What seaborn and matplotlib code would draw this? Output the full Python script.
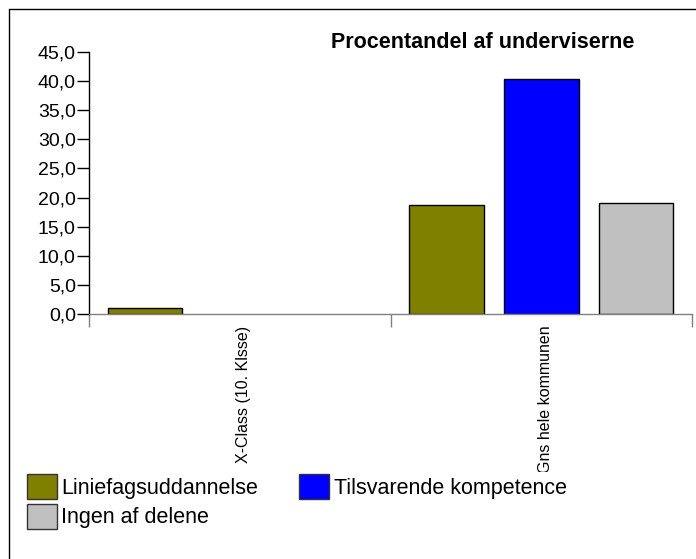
import matplotlib
matplotlib.use('Agg')
import matplotlib.pyplot as plt
from matplotlib.lines import Line2D
from matplotlib.transforms import Bbox, ScaledTranslation
from matplotlib.ticker import FixedLocator, FuncFormatter
import pandas as pd
import seaborn as sns

# data
groups = ['X-Class (10. Klsse)', 'Gns hele kommunen']
series = ['Liniefagsuddannelse', 'Tilsvarende kompetence', 'Ingen af delene']
liniefag = [1.0, 18.7]
tilsvarende = [0.0, 40.3]
ingen = [0.0, 19.1]
colors = ['#808000', '#0000FF', '#C0C0C0']
yticks = [0, 5, 10, 15, 20, 25, 30, 35, 40, 45]

df = pd.DataFrame({
    'gruppe': groups * 3,
    'serie': [s for s in series for _ in groups],
    'pct': liniefag + tilsvarende + ingen,
})

sns.set_style('white')
plt.rcParams['font.family'] = ['Liberation Sans', 'DejaVu Sans']
plt.rcParams['text.color'] = 'black'
plt.rcParams['xtick.labelcolor'] = 'black'
plt.rcParams['ytick.labelcolor'] = 'black'

W, H = 696, 559
fig = plt.figure(figsize=(W / 100, H / 100), dpi=100)
ax = fig.add_axes([89 / W, 1 - 314 / H, (692 - 89) / W, (314 - 52) / H])

sns.barplot(data=df, x='gruppe', y='pct', hue='serie', hue_order=series,
            order=groups, palette=colors, width=0.942, gap=0.21,
            edgecolor='black', linewidth=1, saturation=1, ax=ax)

# empty bars leave no outline in the original
for p in ax.patches:
    if p.get_height() == 0:
        p.set_linewidth(0)

handles, labels = ax.get_legend_handles_labels()
ax.get_legend().remove()
for h in handles:
    h.set_edgecolor('#333333')
    h.set_linewidth(1)

ax.set_xlim(-0.5, 1.5)
ax.set_ylim(0, 45)
ax.set_xlabel('')
ax.set_ylabel('')

# y axis
ax.yaxis.set_major_locator(FixedLocator(yticks))
ax.yaxis.set_major_formatter(FuncFormatter(lambda v, p: f'{v:.1f}'.replace('.', ',')))
ax.tick_params(axis='y', left=True, length=8.5, width=1, pad=1, labelsize=14,
               color='black', labelcolor='black')

# x axis: group boundary ticks, labels rotated
ax.set_xticks([0, 1])
ax.set_xticklabels(groups, rotation=90, fontsize=11.5)
ax.set_xticks([-0.5, 0.5, 1.5], minor=True)
ax.tick_params(axis='x', which='major', length=0, pad=8.5, labelcolor='black')
ax.tick_params(axis='x', which='minor', bottom=True, length=9.5, width=1, color='#808080')

for s in ['top', 'right']:
    ax.spines[s].set_visible(False)
ax.spines['left'].set_color('black')
ax.spines['bottom'].set_color('#808080')
ax.spines['left'].set_linewidth(1)
ax.spines['bottom'].set_linewidth(1)

# labels sit a little right of the group centre and are cut off at the legend area
clip = Bbox.from_extents(0, H - 472, W, H)
shift = ScaledTranslation(4 / 100, 0, fig.dpi_scale_trans)
for lab in ax.get_xticklabels():
    lab.set_transform(lab.get_transform() + shift)
    lab.set_clip_box(clip)
    lab.set_clip_on(True)

fig.text(483 / W, 1 - 48 / H, 'Procentandel af underviserne', ha='center',
         va='baseline', fontsize=15.5, fontweight='bold', color='black')

# row-wise legend order like the original
order = [0, 2, 1]
fig.legend([handles[i] for i in order], [labels[i] for i in order],
           loc='upper left', bbox_to_anchor=(27 / W, 1 - 474 / H),
           ncol=2, frameon=False, fontsize=15.5, borderpad=0, borderaxespad=0,
           handlelength=1.4, handleheight=1.4, handletextpad=0.2,
           labelspacing=0.23, columnspacing=1.9)

# outer chart border (only top and left visible)
fig.add_artist(Line2D([9 / W, 9 / W], [0, 1 - 9 / H], color='black', lw=1))
fig.add_artist(Line2D([9 / W, 1], [1 - 9 / H, 1 - 9 / H], color='black', lw=1))

fig.savefig('out.png', dpi=100)
